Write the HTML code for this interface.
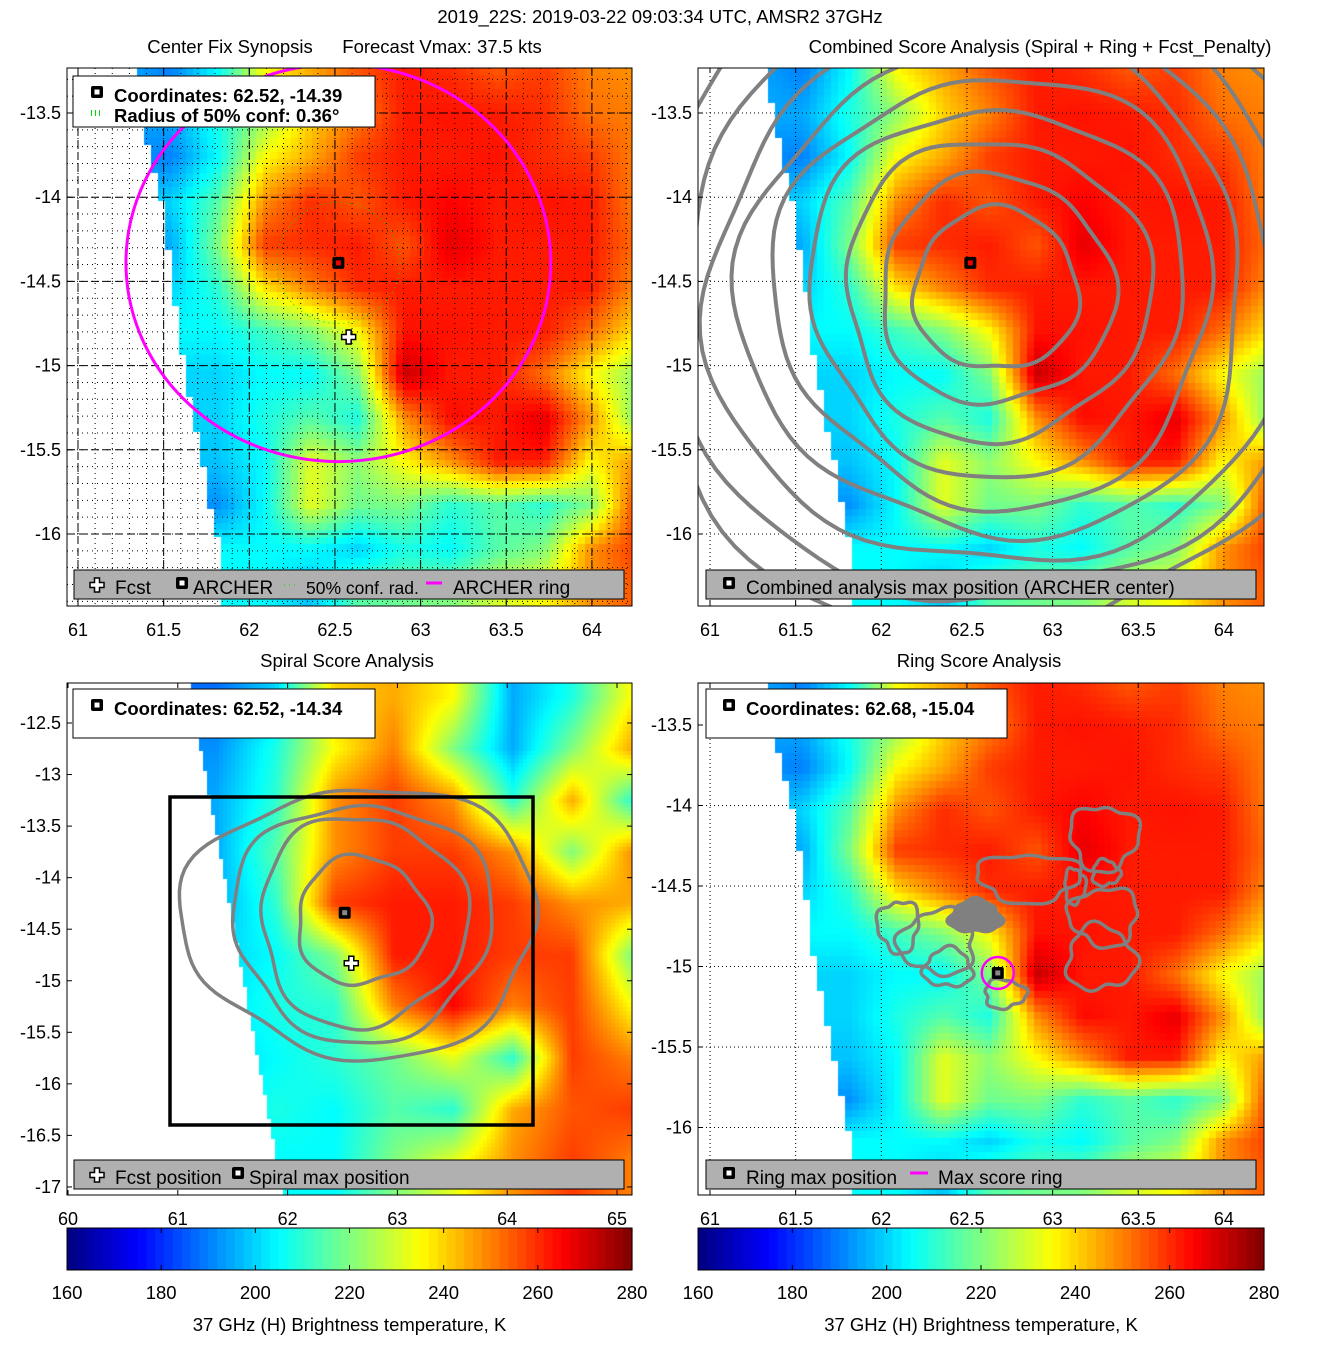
<!DOCTYPE html>
<html><head><meta charset="utf-8">
<style>
body{margin:0;background:#fff;width:1317px;height:1350px;position:relative;overflow:hidden;font-family:"Liberation Sans",sans-serif}
canvas{position:absolute}
svg{position:absolute;left:0;top:0}
</style></head>
<body>
<canvas id="c1" style="left:67px;top:68px" width="565" height="538"></canvas>
<canvas id="c2" style="left:698px;top:68px" width="566" height="538"></canvas>
<canvas id="c3" style="left:67px;top:683px" width="565" height="512"></canvas>
<canvas id="c4" style="left:698px;top:683px" width="566" height="512"></canvas>
<svg id="ov" width="1317" height="1350" font-family="Liberation Sans, sans-serif"></svg>
<script>
// ---- data ----
const gridLon0 = 61.0, gridDLon = 0.272;
const gridLat0 = -13.25, gridDLat = -0.258;
const tbRows = [
[195,195,190,205,235,245,255,262,260,255,258,250,248],
[195,195,195,208,222,240,250,262,263,262,260,252,250],
[192,192,190,205,235,245,258,262,262,263,260,258,250],
[198,198,200,215,248,260,255,262,265,262,263,262,250],
[195,195,195,220,258,260,262,255,268,262,262,262,252],
[200,200,200,210,238,250,260,262,262,262,262,262,248],
[205,205,205,205,212,220,235,263,263,262,262,252,238],
[200,200,200,200,205,205,220,272,262,262,252,235,222],
[200,200,200,200,208,215,208,248,264,262,268,248,220],
[198,198,198,198,205,232,222,235,248,262,262,235,248],
[192,192,192,192,205,232,218,220,210,215,210,220,258],
[205,205,205,205,205,205,200,208,205,215,220,248,258],
[205,205,205,205,205,198,215,218,220,230,235,248,255],
[205,205,205,205,205,198,215,218,220,230,235,248,255]];
const edgeLat = [-13.2,-13.77,-14.02,-14.28,-14.54,-14.8,-15.05,-15.32,-15.58,-15.84,-16.1,-16.5];
const edgeLon = [61.315,61.42,61.485,61.52,61.56,61.58,61.63,61.67,61.73,61.77,61.83,61.84];

const spLon0 = 61.35, spDLon = 0.54, spLat0 = -12.25, spDLat = -0.5;
const spRows = [
[188,200,240,245,235,195,208,235],
[192,208,235,250,220,195,220,245],
[195,210,248,258,248,210,245,210],
[195,215,248,258,258,248,220,248],
[195,210,258,262,262,258,248,245],
[200,205,220,262,262,258,258,220],
[200,208,210,250,265,250,258,235],
[200,205,210,218,232,210,258,250],
[200,208,205,215,210,245,255,258],
[200,205,205,220,232,248,258,250],
[200,205,205,220,232,248,258,250]];
const spEdgeLat = [-12.0,-17.2];
const spEdgeLon = [61.08,61.98];

const archer1 = [62.52,-14.39], fcst = [62.58,-14.83];
const archer3 = [62.52,-14.34], archer4 = [62.68,-15.04];
const ringRadius = [1.24,1.18], confRadius = 0.36;
const combCenter = [62.67,-14.55];
const combRadii = [0.48,0.68,0.89,1.09,1.28,1.47,1.67,1.87,2.07];
const spCenter = [62.68,-14.42];
const spRx = [0.6,0.94,1.18,1.62], spRy = [0.62,1.02,1.15,1.31];
const ringLoops = [[62.55,-14.69,0.15,0.1],[63.31,-14.42,0.08,0.08],[63.13,-14.5,0.06,0.11],[62.86,-14.45,0.3,0.15],[63.3,-14.69,0.2,0.18],[62.33,-14.85,0.22,0.2],[62.39,-15.01,0.14,0.12],[63.28,-14.95,0.2,0.2],[62.72,-15.17,0.12,0.09],[63.3,-14.2,0.2,0.2],[62.1,-14.75,0.12,0.16]];
const cbTicks = [160,180,200,220,240,260,280];
const xt12 = [61,61.5,62,62.5,63,63.5,64];
const yt12 = [-13.5,-14,-14.5,-15,-15.5,-16];
const xt3 = [60,61,62,63,64,65];
const yt3 = [-12.5,-13,-13.5,-14,-14.5,-15,-15.5,-16,-16.5,-17];

// ---- axes ----
const P = {
 p1:{L:67,T:68,W:565,H:538,x:l=>78+(l-61)*171.3,y:a=>113+(-13.5-a)*168.4},
 p2:{L:698,T:68,W:566,H:538,x:l=>710+(l-61)*171.3,y:a=>113+(-13.5-a)*168.4},
 p3:{L:67,T:683,W:565,H:512,x:l=>68+(l-60)*109.8,y:a=>723+(-12.5-a)*103.1},
 p4:{L:698,T:683,W:566,H:512,x:l=>710+(l-61)*171.3,y:a=>725+(-13.5-a)*161}
};
function inv(p,px,py){
 const x0=p.x(0),x1=p.x(1),y0=p.y(0),y1=p.y(1);
 return [(px-x0)/(x1-x0),(py-y0)/(y1-y0)];
}
function jet(v){
 let t=Math.max(0,Math.min(1,(v-160)/120));
 const c=u=>Math.round(255*Math.max(0,Math.min(1,1.5-Math.abs(4*t-u))));
 return `rgb(${c(3)},${c(2)},${c(1)})`;
}
function interp1(xs,ys,x){
 if(x>=xs[0]) return ys[0];
 for(let i=1;i<xs.length;i++){ if(x>=xs[i]){const f=(x-xs[i-1])/(xs[i]-xs[i-1]);return ys[i-1]+f*(ys[i]-ys[i-1]);} }
 return ys[ys.length-1];
}
function sample(rows,lon0,dlon,lat0,dlat,lon,lat){
 const nr=rows.length,nc=rows[0].length;
 let fr=Math.max(0,Math.min(nr-1.0001,(lat-lat0)/dlat));
 let fc=Math.max(0,Math.min(nc-1.0001,(lon-lon0)/dlon));
 const r=Math.floor(fr),c=Math.floor(fc),a=fr-r,b=fc-c;
 return rows[r][c]*(1-a)*(1-b)+rows[r][c+1]*(1-a)*b+rows[r+1][c]*a*(1-b)+rows[r+1][c+1]*a*b;
}
function heat(id,p,rows,lon0,dlon,lat0,dlat,eLat,eLon,bs){
 const ctx=document.getElementById(id).getContext('2d');
 ctx.fillStyle='#fff';ctx.fillRect(0,0,p.W,p.H);
 for(let y=0;y<p.H;y+=bs)for(let x=0;x<p.W;x+=bs){
  const ll=inv(p,p.L+x+bs/2,p.T+y+bs/2);
  if(ll[0]<interp1(eLat,eLon,ll[1])) continue;
  ctx.fillStyle=jet(sample(rows,lon0,dlon,lat0,dlat,ll[0],ll[1]));
  ctx.fillRect(x,y,bs,bs);
 }
}
heat('c1',P.p1,tbRows,gridLon0,gridDLon,gridLat0,gridDLat,edgeLat,edgeLon,7);
heat('c2',P.p2,tbRows,gridLon0,gridDLon,gridLat0,gridDLat,edgeLat,edgeLon,7);
heat('c4',P.p4,tbRows,gridLon0,gridDLon,gridLat0,gridDLat,edgeLat,edgeLon,7);
heat('c3',P.p3,spRows,spLon0,spDLon,spLat0,spDLat,spEdgeLat,spEdgeLon,4);

// ---- svg helpers ----
const NS='http://www.w3.org/2000/svg', ov=document.getElementById('ov');
function el(tag,at,parent){const e=document.createElementNS(NS,tag);for(const k in at)e.setAttribute(k,at[k]);(parent||ov).appendChild(e);return e;}
function txt(x,y,s,size,anchor,weight){const t=el('text',{x:x,y:y,'font-size':size,'text-anchor':anchor||'middle','font-weight':weight||'normal',fill:'#000'});t.textContent=s;return t;}
const defs=el('defs',{});
['p1','p2','p3','p4'].forEach(k=>{const p=P[k];const cp=el('clipPath',{id:'clip'+k},defs);el('rect',{x:p.L,y:p.T,width:p.W,height:p.H},cp);});

function grid(k,lons,lats,dash,w){
 const p=P[k],g=el('g',{'clip-path':'url(#clip'+k+')'});
 
 
 lons.forEach(l=>el('line',{x1:p.x(l),x2:p.x(l),y1:p.T,y2:p.T+p.H,stroke:'#000','stroke-width':w,'stroke-dasharray':dash},g));
 lats.forEach(a=>el('line',{x1:p.L,x2:p.L+p.W,y1:p.y(a),y2:p.y(a),stroke:'#000','stroke-width':w,'stroke-dasharray':dash},g));
}
const fineLon=[],fineLat=[];
for(let i=0;i<=35;i++)fineLon.push(60.9+i*0.1);
for(let i=0;i<=34;i++)fineLat.push(-13.2-i*0.1);
grid('p1',fineLon,fineLat,'1,4',1);
grid('p1',xt12,yt12,'8,4',1);
grid('p2',xt12,yt12,'1,3',1);
grid('p4',xt12,yt12,'1,3',1);

function wobblyEllipse(k,cx,cy,rx,ry,amp,seed,w,parent){
 const p=P[k];let d='';
 for(let i=0;i<=120;i++){const th=i/120*2*Math.PI;
  const m=1+amp*(Math.sin(3*th+seed)+0.5*Math.sin(7*th+2*seed));
  const x=p.x(cx)+rx*m*Math.cos(th),y=p.y(cy)+ry*m*Math.sin(th);
  d+=(i?'L':'M')+x.toFixed(1)+','+y.toFixed(1);}
 return el('path',{d:d,fill:'none',stroke:'#808080','stroke-width':w},parent);
}
const g2=el('g',{'clip-path':'url(#clipp2)'});


combRadii.forEach((r,i)=>{const e=wobblyEllipse('p2',combCenter[0],combCenter[1],r*171.3,r*168.4,0.04,i,4,g2);
 });
const g3=el('g',{'clip-path':'url(#clipp3)'});


spRx.forEach((r,i)=>{const e=wobblyEllipse('p3',spCenter[0],spCenter[1],r*109.8,spRy[i]*103.1,0.05,i+1,3.5,g3);
 });
const g4=el('g',{'clip-path':'url(#clipp4)'});


ringLoops.forEach((c,i)=>{const e=wobblyEllipse('p4',c[0],c[1],c[2]*171.3,c[3]*161,0.12,i,3.5,g4);
 
 if(i===0)e.setAttribute('fill','#808080');});

el('rect',{x:170,y:797,width:363,height:328,fill:'none',stroke:'#000','stroke-width':3.5,});

const g1=el('g',{'clip-path':'url(#clipp1)'});


el('ellipse',{cx:P.p1.x(archer1[0]),cy:P.p1.y(archer1[1]),rx:ringRadius[0]*171.3,ry:ringRadius[1]*168.4,fill:'none',stroke:'#ff00ff','stroke-width':3,},g1);
el('ellipse',{cx:P.p1.x(archer1[0]),cy:P.p1.y(archer1[1]),rx:confRadius*171.3,ry:confRadius*168.4,fill:'none',stroke:'#00dd00','stroke-width':1,'stroke-dasharray':'1,4',},g1);
el('circle',{cx:P.p4.x(archer4[0]),cy:P.p4.y(archer4[1]),r:16,fill:'none',stroke:'#ff00ff','stroke-width':2.5,});

function sq(x,y,name,inner){const g=el('g',{});
 el('rect',{x:x-6,y:y-6,width:12,height:12,fill:'#000',rx:2},g);
 el('rect',{x:x-2.5,y:y-2.5,width:5,height:5,fill:inner||'#fff'},g);return g;}
function cross(x,y,name){const g=el('g',{});
 el('path',{d:`M${x-2.5},${y-7}h5v4.5h4.5v5h-4.5v4.5h-5v-4.5h-4.5v-5h4.5z`,fill:'#fff',stroke:'#000','stroke-width':1.5},g);return g;}
sq(P.p1.x(archer1[0]),P.p1.y(archer1[1]),'archer-marker','#e00');
cross(P.p1.x(fcst[0]),P.p1.y(fcst[1]),'forecast-marker');
sq(P.p2.x(archer1[0]),P.p2.y(archer1[1]),'combined-max-marker','#e00');
sq(P.p3.x(archer3[0]),P.p3.y(archer3[1]),'spiral-max-marker','#888');
cross(P.p3.x(fcst[0]),P.p3.y(fcst[1]),'forecast-marker-spiral');
sq(P.p4.x(archer4[0]),P.p4.y(archer4[1]),'ring-max-marker','#888');

['p1','p2','p3','p4'].forEach(k=>{const p=P[k];
 el('rect',{x:p.L,y:p.T,width:p.W,height:p.H,fill:'none',stroke:'#000','stroke-width':1,});});
function yTicks(k,vals){const p=P[k];vals.forEach(v=>{const y=p.y(v);
 el('line',{x1:p.L,x2:p.L+5,y1:y,y2:y,stroke:'#000'});el('line',{x1:p.L+p.W-5,x2:p.L+p.W,y1:y,y2:y,stroke:'#000'});
 const t=txt(p.L-6,y+6,String(v),18,'end');});}
function xTicks(k,vals,ly){const p=P[k];vals.forEach(v=>{const x=p.x(v);
 el('line',{x1:x,x2:x,y1:p.T+p.H-5,y2:p.T+p.H,stroke:'#000'});el('line',{x1:x,x2:x,y1:p.T,y2:p.T+5,stroke:'#000'});
 const t=txt(x,ly,String(v),18,'middle');});}
yTicks('p1',yt12);yTicks('p2',yt12);yTicks('p3',yt3);yTicks('p4',yt12);
xTicks('p1',xt12,636);xTicks('p2',xt12,636);xTicks('p3',xt3,1225);xTicks('p4',xt12,1225);

let t;
t=txt(660,23,'2019_22S: 2019-03-22 09:03:34 UTC, AMSR2 37GHz',18.5);
t=txt(230,53,'Center Fix Synopsis',18.5);
t=txt(442,53,'Forecast Vmax: 37.5 kts',18.5);
t=txt(1040,53,'Combined Score Analysis (Spiral + Ring + Fcst_Penalty)',18.5);
t=txt(347,667,'Spiral Score Analysis',18.5);
t=txt(979,667,'Ring Score Analysis',18.5);

function box(x,y,w,h,fill,name){return el('rect',{x:x,y:y,width:w,height:h,fill:fill,stroke:'#000','stroke-width':1,});}
box(73,76,302,51,'#fff','synopsis-info-box');
sq(97,92,'legend-archer-icon');
txt(114,102,'Coordinates: 62.52, -14.39',18.5,'start','bold');
el('line',{x1:91,x2:103,y1:113,y2:113,stroke:'#00dd00','stroke-dasharray':'1,3','stroke-width':6});
txt(114,122,'Radius of 50% conf: 0.36°',18.5,'start','bold');
box(74,570,550,29,'#b0b0b0','synopsis-legend');
cross(97,585,'legend-fcst');txt(115,594,'Fcst',19,'start');
sq(182,583,'legend-archer');txt(193,594,'ARCHER',19,'start');
el('line',{x1:284,x2:296,y1:585,y2:585,stroke:'#00dd00','stroke-dasharray':'1,4'});
txt(306,594,'50% conf. rad.',17.5,'start');
el('line',{x1:426,x2:442,y1:583,y2:583,stroke:'#ff00ff','stroke-width':3});
txt(453,594,'ARCHER ring',19,'start');

box(706,570,550,29,'#b0b0b0','combined-legend');
sq(729,583,'legend-combined-max');txt(746,594,'Combined analysis max position (ARCHER center)',19,'start');

box(73,689,302,49,'#fff','spiral-info-box');
sq(97,705,'legend-spiral-icon');txt(114,715,'Coordinates: 62.52, -14.34',18.5,'start','bold');
box(74,1160,550,29,'#b0b0b0','spiral-legend');
cross(97,1175,'legend-fcst-spiral');txt(115,1184,'Fcst position',19,'start');
sq(238,1173,'legend-spiral-max');txt(249,1184,'Spiral max position',19,'start');

box(706,689,301,49,'#fff','ring-info-box');
sq(729,705,'legend-ring-icon');txt(746,715,'Coordinates: 62.68, -15.04',18.5,'start','bold');
box(706,1160,550,29,'#b0b0b0','ring-legend');
sq(729,1173,'legend-ring-max');txt(746,1184,'Ring max position',19,'start');
el('line',{x1:910,x2:928,y1:1173,y2:1173,stroke:'#ff00ff','stroke-width':3});
txt(938,1184,'Max score ring',19,'start');

function colorbar(x0,w,name){
 const g=el('g',{});
 
 
 const n=64;
 for(let i=0;i<n;i++){el('rect',{x:x0+i*w/n,y:1228,width:w/n+0.6,height:42,fill:jet(160+(i+0.5)*120/n),stroke:'none'},g);}
 el('rect',{x:x0,y:1228,width:w,height:42,fill:'none',stroke:'#000'},g);
 cbTicks.forEach(v=>{const x=x0+(v-160)/120*w;
  el('line',{x1:x,x2:x,y1:1228,y2:1233,stroke:'#000'},g);el('line',{x1:x,x2:x,y1:1265,y2:1270,stroke:'#000'},g);
  const tt=txt(x,1299,String(v),18.5,'middle');});
 const lb=txt(x0+w/2,1331,'37 GHz (H) Brightness temperature, K',18.5,'middle');
 
}
colorbar(67,565,'colorbar-left');
colorbar(698,566,'colorbar-right');
</script>
</body></html>
